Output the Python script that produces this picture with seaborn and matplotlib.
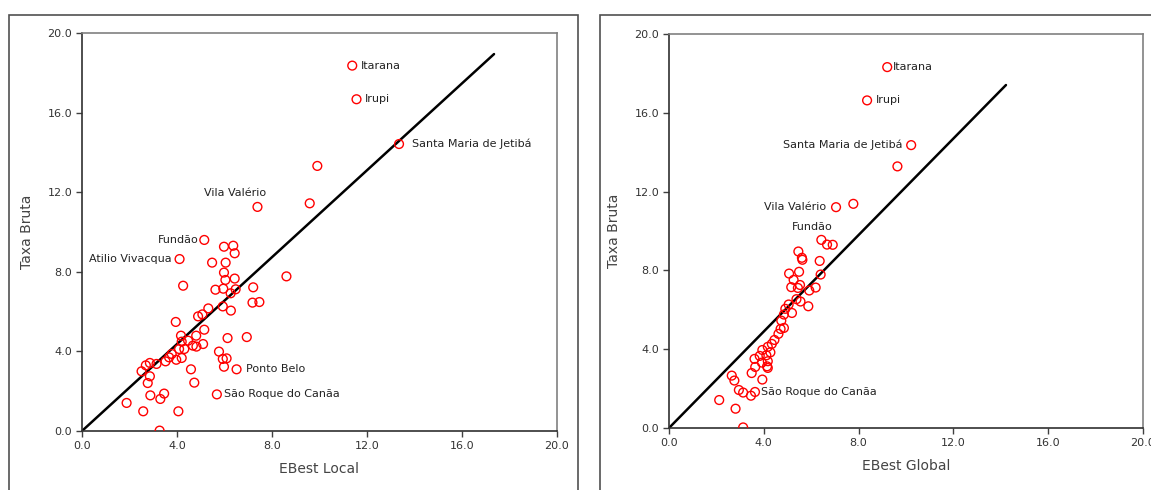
import matplotlib
matplotlib.use("Agg")
import matplotlib.pyplot as plt
from matplotlib.patches import Rectangle
import seaborn as sns
import pandas as pd

# EBest Local vs Taxa Bruta
local_x = [11.38, 11.56, 13.35, 9.91, 9.59, 7.39, 5.15, 4.11, 5.98, 6.37, 6.43, 5.48,
           6.05, 5.98, 6.43, 6.04, 4.26, 5.62, 5.95, 6.26, 6.47, 7.21, 8.61, 7.18,
           7.47, 5.93, 5.32, 6.27, 4.89, 5.07, 3.95, 5.15, 4.17, 4.81, 6.13, 6.94,
           5.10, 4.82, 4.47, 4.20, 4.31, 4.09, 4.67, 3.97, 4.20, 3.78, 3.52, 3.67,
           5.77, 5.93, 6.09, 5.98, 6.51, 4.59, 4.73, 3.14, 2.86, 2.69, 2.51, 2.86,
           2.77, 2.88, 3.46, 3.30, 5.68, 1.88, 2.58, 4.06, 3.27]
local_y = [18.36, 16.67, 14.42, 13.32, 11.44, 11.26, 9.60, 8.64, 9.26, 9.31, 8.93, 8.46,
           8.46, 7.96, 7.66, 7.59, 7.30, 7.10, 7.15, 6.92, 7.12, 7.22, 7.77, 6.45,
           6.48, 6.26, 6.16, 6.05, 5.76, 5.86, 5.48, 5.09, 4.79, 4.79, 4.67, 4.72,
           4.37, 4.24, 4.54, 4.49, 4.12, 4.12, 4.29, 3.58, 3.67, 3.87, 3.50, 3.70,
           3.99, 3.62, 3.65, 3.23, 3.10, 3.10, 2.43, 3.37, 3.42, 3.30, 3.00, 2.75,
           2.41, 1.79, 1.88, 1.61, 1.84, 1.41, 0.99, 0.99, 0.02]
local_fit_x = [0.0, 17.35]
local_fit_y = [0.0, 18.94]

# EBest Global vs Taxa Bruta
global_x = [9.21, 8.36, 10.22, 9.64, 7.78, 7.05, 6.43, 6.67, 6.91, 5.46, 5.63, 6.36,
            5.61, 5.49, 6.40, 5.07, 5.26, 5.53, 5.16, 5.44, 6.19, 5.92, 5.38, 5.55,
            5.88, 5.19, 5.05, 4.91, 4.85, 4.74, 4.85, 4.71, 4.62, 4.45, 4.34, 4.17,
            3.94, 4.28, 4.11, 3.83, 3.61, 4.17, 3.92, 4.14, 4.17, 3.64, 3.49, 3.94,
            2.65, 2.76, 2.95, 3.13, 3.46, 3.63, 2.12, 2.81, 3.13]
global_y = [18.32, 16.63, 14.36, 13.28, 11.38, 11.21, 9.55, 9.31, 9.30, 8.96, 8.54, 8.48,
            8.64, 7.93, 7.79, 7.84, 7.52, 7.26, 7.15, 7.11, 7.13, 6.98, 6.54, 6.42,
            6.18, 5.84, 6.27, 6.05, 5.76, 5.45, 5.08, 5.03, 4.78, 4.47, 4.27, 4.12,
            3.96, 3.84, 3.69, 3.66, 3.51, 3.39, 3.32, 3.13, 3.05, 3.10, 2.79, 2.46,
            2.66, 2.41, 1.93, 1.80, 1.64, 1.83, 1.42, 0.98, 0.03]
global_fit_x = [0.0, 14.22]
global_fit_y = [0.0, 17.41]

ticks = [0.0, 4.0, 8.0, 12.0, 16.0, 20.0]
tick_labels = ["0.0", "4.0", "8.0", "12.0", "16.0", "20.0"]

# municipality labels: (name, x, y, ha, dx, dy)
local_labels = [
    ("Itarana", 11.38, 18.36, "left", 6, 0),
    ("Irupi", 11.56, 16.67, "left", 6, 0),
    ("Santa Maria de Jetibá", 13.35, 14.42, "left", 9, 0),
    ("Vila Valério", 7.39, 11.26, "center", -16, 10),
    ("Fundão", 5.15, 9.60, "right", -4, 0),
    ("Atilio Vivacqua", 4.11, 8.64, "right", -6, 0),
    ("Ponto Belo", 6.51, 3.10, "left", 7, 0),
    ("São Roque do Canãa", 5.68, 1.84, "left", 5, 0),
]
global_labels = [
    ("Itarana", 9.21, 18.32, "left", 4, 0),
    ("Irupi", 8.36, 16.63, "left", 6, 0),
    ("Santa Maria de Jetibá", 10.22, 14.36, "right", -6, 0),
    ("Vila Valério", 7.05, 11.21, "right", -7, 0),
    ("Fundão", 6.43, 9.55, "right", 8, 9),
    ("São Roque do Canãa", 3.63, 1.83, "left", 4, 0),
]

sns.set_theme(style="white")
plt.rcParams["font.family"] = ["DejaVu Sans"]

fig = plt.figure(figsize=(11.51, 4.90), dpi=100)
ax_l = fig.add_axes([0.0712, 0.1204, 0.4127, 0.8123])
ax_r = fig.add_axes([0.5812, 0.1265, 0.4118, 0.8041])

# panel frames
frame_kw = dict(fill=False, edgecolor="#505050", linewidth=1.2,
                transform=fig.transFigure, clip_on=False)
fig.add_artist(Rectangle((0.0078, -0.05), 0.4944, 0.9694 + 0.05, **frame_kw))
fig.add_artist(Rectangle((0.5213, -0.05), 0.52, 0.9694 + 0.05, **frame_kw))

panels = [
    (ax_l, local_x, local_y, local_fit_x, local_fit_y, local_labels, "EBest Local"),
    (ax_r, global_x, global_y, global_fit_x, global_fit_y, global_labels, "EBest Global"),
]

for ax, xs, ys, fx, fy, labels, xlabel in panels:
    df = pd.DataFrame({"x": xs, "y": ys})
    fit = pd.DataFrame({"x": fx, "y": fy})
    sns.lineplot(data=fit, x="x", y="y", ax=ax, color="black", linewidth=1.8, zorder=2)
    sns.scatterplot(data=df, x="x", y="y", ax=ax, marker="o", s=40,
                    facecolor="none", edgecolor="red", linewidth=1.0, zorder=3)
    for name, px, py, ha, dx, dy in labels:
        ax.annotate(name, (px, py), xytext=(dx, dy), textcoords="offset points",
                    ha=ha, va="center", fontsize=8, color="#222222")
    ax.set_xlim(0, 20)
    ax.set_ylim(0, 20)
    ax.set_xticks(ticks)
    ax.set_yticks(ticks)
    ax.set_xticklabels(tick_labels, fontsize=8, color="#333333")
    ax.set_yticklabels(tick_labels, fontsize=8, color="#333333")
    ax.tick_params(axis="both", length=4, width=1, color="#404040", direction="out",
                   bottom=True, left=True, pad=3)
    ax.set_xlabel(xlabel, fontsize=10, color="#444444", labelpad=8)
    ax.set_ylabel("Taxa Bruta", fontsize=10, color="#444444", labelpad=10)
    for side in ["left", "bottom"]:
        ax.spines[side].set_color("#303030")
        ax.spines[side].set_linewidth(1.2)
    for side in ["top", "right"]:
        ax.spines[side].set_color("#808080")
        ax.spines[side].set_linewidth(1.2)
    ax.set_facecolor("white")

fig.savefig("out.png", dpi=100)
